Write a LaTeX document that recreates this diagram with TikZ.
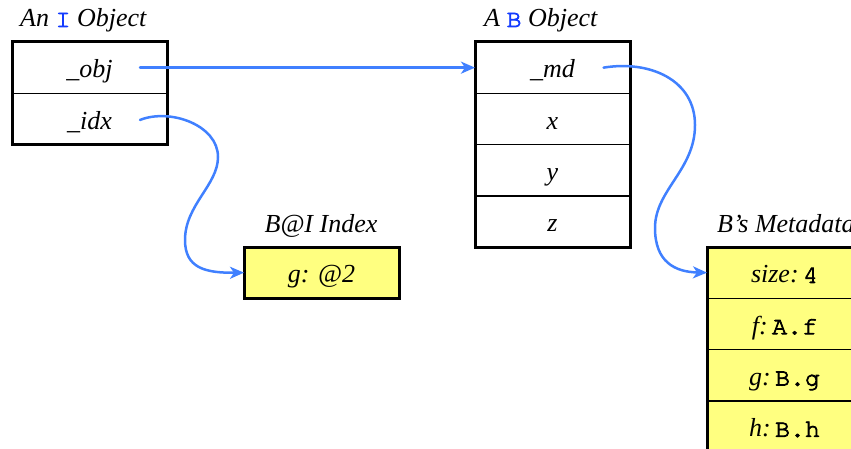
\documentclass[tikz,border=0pt]{standalone}
\usepackage{fontspec}
\setmainfont{Liberation Serif}
\newfontfamily\codefont{TeX Gyre Cursor}[FakeBold=3]
\usetikzlibrary{arrows.meta}

\definecolor{linkblue}{RGB}{64,128,255}
\definecolor{typeblue}{RGB}{20,60,255}
\definecolor{slotyellow}{RGB}{255,255,128}

% class names in the titles, and code values inside the slots
\newcommand\typename[1]{{\upshape\codefont\fontsize{25}{30}\selectfont\color{typeblue}#1}}
\newcommand\codeval[1]{{\upshape\codefont\fontsize{25}{30}\selectfont #1}}

\begin{document}
\begin{tikzpicture}[x=1pt,y=-1pt,
  slot/.style={draw, line width=1.5pt, minimum width=155pt, minimum height=51.3pt,
    inner sep=0pt, outer sep=0pt, anchor=north west, text height=26pt, text depth=5.5pt,
    font=\fontsize{26}{30}\selectfont\itshape},
  datum/.style={slot, fill=slotyellow},
  frame/.style={draw, line width=3pt},
  heading/.style={inner sep=0pt, font=\fontsize{26}{30}\selectfont\itshape},
  link/.style={draw=linkblue, line width=2.5pt, line cap=round,
    -{Stealth[length=14pt, width=12pt, inset=4pt]}}]

\useasboundingbox (0,0) rectangle (851,449);
\clip (0,0) rectangle (851,449);

% the I object
\node[heading, anchor=base west] (ihead) at (20,27) {An \typename{I} Object};
\node[slot] (iobj) at (12,42)   {\_obj};
\node[slot] (iidx) at (12,93.3) {\_idx};
\path[frame] (iobj.north west) rectangle (iidx.south east);

% the B object
\node[heading, anchor=base west] (bhead) at (484,27) {A \typename{B} Object};
\node[slot] (bmd) at (475,42)    {\_md};
\node[slot] (bx)  at (475,93.3)  {x};
\node[slot] (by)  at (475,144.6) {y};
\node[slot] (bz)  at (475,195.9) {z};
\path[frame] (bmd.north west) rectangle (bz.south east);

% the B@I index
\node[heading, anchor=base] (xhead) at (321,233) {B@I Index};
\node[datum] (xg) at (244,247) {g: @2};
\path[frame] (xg.north west) rectangle (xg.south east);

% B's metadata
\node[heading, anchor=base west] (mhead) at (717,233) {B’s Metadata};
\node[datum] (msize) at (707,247)   {size:\,\codeval{4}};
\node[datum] (mf)    at (707,298.3) {f:\,\codeval{A.f}};
\node[datum] (mg)    at (707,349.6) {g:\,\codeval{B.g}};
\node[datum] (mh)    at (707,400.9) {h:\,\codeval{B.h}};
\path[frame] (msize.north west) rectangle (mh.south east);

% pointers start just right of the field names
\coordinate (objtail) at ([xshift=50.5pt]iobj.center);
\coordinate (idxtail) at ([xshift=50.5pt,yshift=-1pt]iidx.center);
\coordinate (mdtail)  at ([xshift=51pt]bmd.center);

\draw[link] (objtail) -- (bmd.west);
\draw[link] (idxtail) .. controls (170,108) and (218,125) .. (218,157)
  .. controls (218,185) and (185,205) .. (185,240)
  .. controls (185,268) and (205,273) .. (xg.west);
\draw[link] (mdtail) .. controls (650,60) and (695,80) .. (695,125)
  .. controls (695,170) and (655,190) .. (655,228)
  .. controls (655,262) and (675,272) .. (msize.west);
\end{tikzpicture}
\end{document}
